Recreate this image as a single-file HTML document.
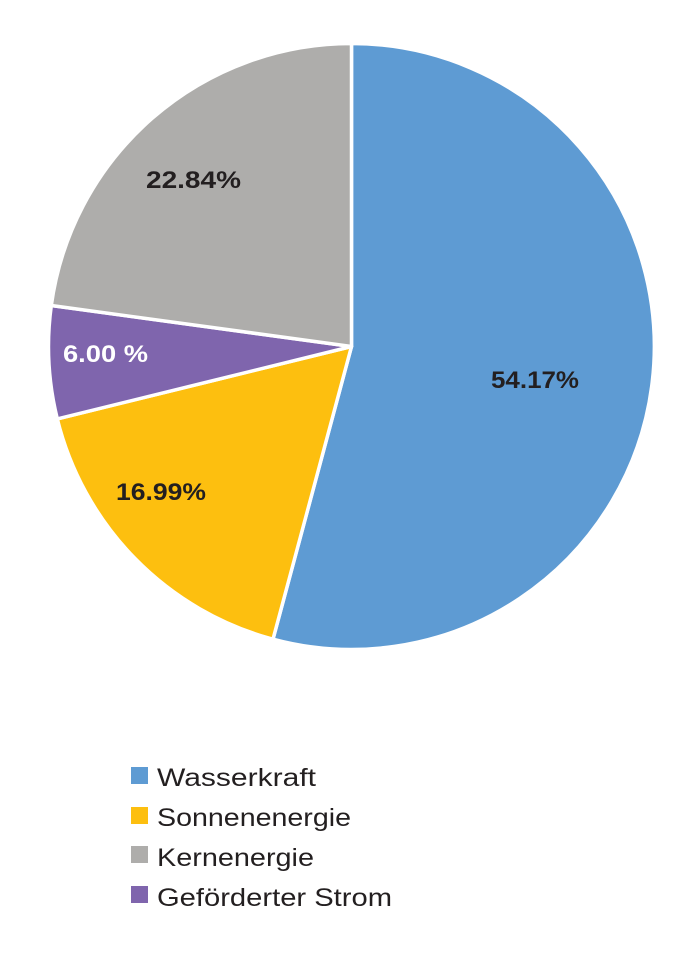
<!DOCTYPE html>
<html><head><meta charset="utf-8"><style>
html,body{margin:0;padding:0;background:#fff;}
body{width:694px;height:959px;overflow:hidden;font-family:"Liberation Sans",sans-serif;}
</style></head><body>
<svg width="694" height="959" viewBox="0 0 694 959" xmlns="http://www.w3.org/2000/svg">
<g stroke="#fff" stroke-width="3.5" stroke-linejoin="round">
<path d="M351.5,346.5 L351.5,43.5 A303,303 0 1 1 273,639.2 Z" fill="#5e9bd3"/>
<path d="M351.5,346.5 L273,639.2 A303,303 0 0 1 57.3,418.9 Z" fill="#fdbf0f"/>
<path d="M351.5,346.5 L57.3,418.9 A303,303 0 0 1 51.3,305.5 Z" fill="#7f65ad"/>
<path d="M351.5,346.5 L51.3,305.5 A303,303 0 0 1 351.5,43.5 Z" fill="#aeadab"/>
</g>
<g font-family="Liberation Sans, sans-serif" font-weight="bold" font-size="24" fill="#231f20">
<text x="146" y="188" textLength="95" lengthAdjust="spacingAndGlyphs">22.84%</text>
<text x="491" y="388" textLength="88" lengthAdjust="spacingAndGlyphs">54.17%</text>
<text x="116" y="500" textLength="90" lengthAdjust="spacingAndGlyphs">16.99%</text>
<text x="63" y="362" fill="#fff" textLength="85" lengthAdjust="spacingAndGlyphs">6.00 %</text>
</g>
<g font-family="Liberation Sans, sans-serif" font-size="25" fill="#231f20">
<rect x="131" y="767" width="17" height="17" fill="#5e9bd3"/><text x="157" y="786" textLength="159" lengthAdjust="spacingAndGlyphs">Wasserkraft</text>
<rect x="131" y="807" width="17" height="17" fill="#fdbf0f"/><text x="157" y="826" textLength="194" lengthAdjust="spacingAndGlyphs">Sonnenenergie</text>
<rect x="131" y="846" width="17" height="17" fill="#aeadab"/><text x="157" y="866" textLength="157" lengthAdjust="spacingAndGlyphs">Kernenergie</text>
<rect x="131" y="886" width="17" height="17" fill="#7f65ad"/><text x="157" y="906" textLength="235" lengthAdjust="spacingAndGlyphs">Geförderter Strom</text>
</g>
</svg>
</body></html>
